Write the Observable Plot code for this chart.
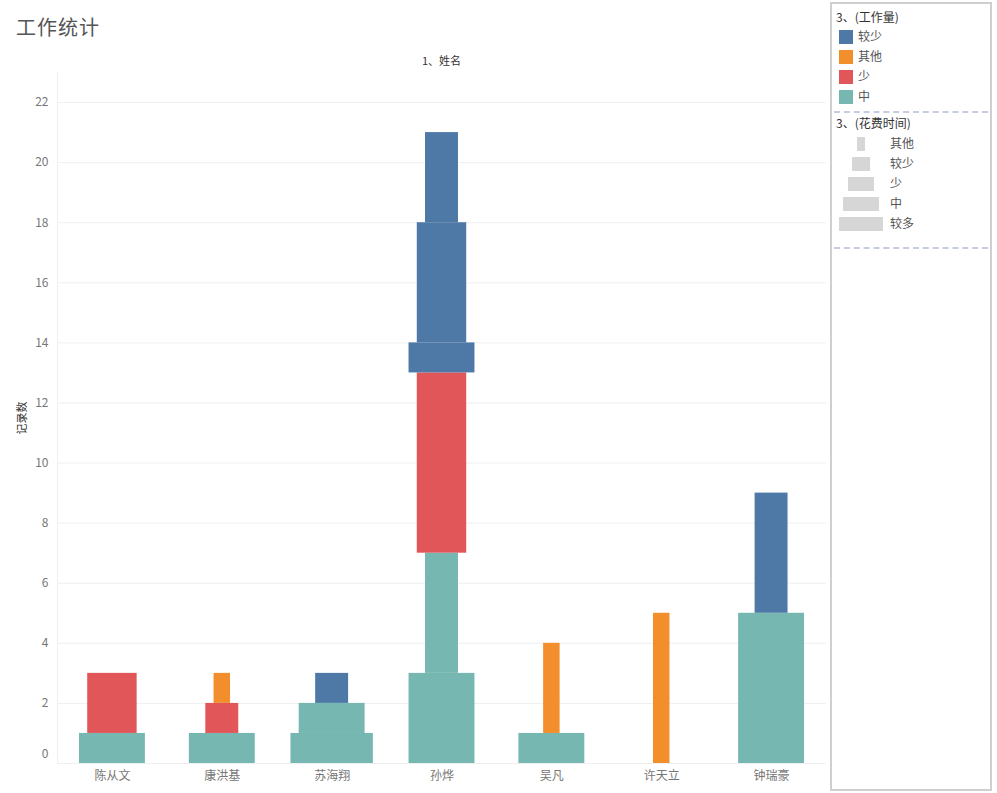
<!DOCTYPE html>
<html><head><meta charset="utf-8">
<script src="https://cdn.jsdelivr.net/npm/d3@7"></script>
<script src="https://cdn.jsdelivr.net/npm/@observablehq/plot@0.6"></script>
<style>
html,body{margin:0;padding:0;background:#fff;font-family:"Noto Sans CJK SC","Noto Sans",sans-serif;}
#wrap{position:relative;width:997px;height:793px;overflow:hidden;}
#title{position:absolute;left:16px;top:12px;font-size:20px;color:#555;letter-spacing:1px;}
#hdr{position:absolute;left:0;width:883px;top:52px;text-align:center;font-size:11px;color:#333;}
#chart{position:absolute;left:0;top:0;}
#legend{position:absolute;left:830px;top:2px;width:158px;height:785px;border:2px solid #cfcfcf;box-sizing:content-box;}
.lt{position:absolute;left:4px;font-size:12px;color:#333;}
.sw{position:absolute;left:7px;width:14px;height:14px;}
.st{position:absolute;left:26px;font-size:12px;color:#555;}
.dash{position:absolute;left:2px;width:154px;border-top:2px dashed #c5cbe0;}
.sz{position:absolute;height:14px;background:#d6d6d6;}
.szt{position:absolute;left:58px;font-size:12px;color:#555;}
</style></head>
<body><div id="wrap"><div id="chart"></div><div id="title">工作统计</div><div id="hdr">1、姓名</div><div id="legend"></div></div>
<script>
// ---- data ----
const names = ["陈从文","康洪基","苏海翔","孙烨","吴凡","许天立","钟瑞豪"];
// segments in stacking order (bottom to top)
const segName     = ["陈从文","陈从文","康洪基","康洪基","康洪基","苏海翔","苏海翔","苏海翔","孙烨","孙烨","孙烨","孙烨","孙烨","孙烨","吴凡","吴凡","许天立","钟瑞豪","钟瑞豪"];
const segWorkload = ["中","少","中","少","其他","中","中","较少","中","中","少","较少","较少","较少","中","其他","其他","中","较少"];
const segTime     = ["中","少","中","较少","其他","较多","中","较少","中","较少","少","中","少","较少","中","其他","其他","中","较少"];
const segCount    = [1,2,1,1,1,1,1,1,3,4,6,1,4,3,1,3,5,5,4];
const workloadLevels = ["较少","其他","少","中"];
const timeLevels = ["其他","较少","少","中","较多"];
const yTicks = [0,2,4,6,8,10,12,14,16,18,20,22];

// ---- styles ----
const workloadColors = ["#4e79a7","#f28e2b","#e15759","#76b7b2"];
const widthFrac = d3.scaleOrdinal(timeLevels, [0.15,0.3,0.45,0.6,0.75]);

// build table with cumulative stacking
const cum = {};
const rows = segName.map((n,i)=>{
  const base = cum[n] || 0;
  cum[n] = base + segCount[i];
  const c = names.indexOf(n) + 0.5;
  const w = widthFrac(segTime[i]);
  return {name:n, workload:segWorkload[i], time:segTime[i], y1:base, y2:base+segCount[i], x1:c-w/2, x2:c+w/2};
});

const W = 828, H = 793;
const plot = Plot.plot({
  width: W, height: H,
  marginLeft: 57, marginRight: 2, marginTop: 72, marginBottom: 30,
  style: {fontFamily: '"Noto Sans CJK SC","Noto Sans",sans-serif', fontSize: "12px", color: "#777", background: "transparent"},
  x: {domain: [0, names.length], axis: null},
  y: {domain: [0, 23], label: null},
  color: {domain: workloadLevels, range: workloadColors},
  marks: [
    Plot.ruleY(yTicks, {stroke: "#efefef", strokeWidth: 1}),
    Plot.ruleX([0], {stroke: "#f0f0f0"}),
    Plot.rect(rows, {x1: "x1", x2: "x2", y1: "y1", y2: "y2", fill: "workload"}),
    Plot.axisY(yTicks.filter(d => d > 0), {tickSize: 0, tickPadding: 9, fill: "#777", fontSize: 12, label: "记录数", labelAnchor: "center", labelArrow: "none", labelOffset: 39}),
    Plot.axisY([0], {tickSize: 0, tickPadding: 9, fill: "#777", fontSize: 12, dy: -9, label: null}),
    Plot.axisX(names.map((d,i)=>i+0.5), {tickSize: 0, tickPadding: 8, tickFormat: d => names[Math.round(d-0.5)], fill: "#777", fontSize: 12, label: null})
  ]
});
document.getElementById("chart").appendChild(plot);
plot.querySelectorAll("text").forEach(t=>{ if(t.textContent==="记录数"){ t.setAttribute("font-size","11"); t.setAttribute("fill","#333"); }});

// ---- legend ----
const lg = document.getElementById("legend");
let html = `<div class="lt" style="top:4px">3、(工作量)</div>`;
workloadLevels.forEach((k,i)=>{
  const top = 26 + i*20;
  html += `<div class="sw" style="top:${top}px;background:${workloadColors[i]}"></div><div class="st" style="top:${top-3}px">${k}</div>`;
});
html += `<div class="dash" style="top:107px"></div>`;
html += `<div class="lt" style="top:110px">3、(花费时间)</div>`;
timeLevels.forEach((k,i)=>{
  const top = 133 + i*20;
  const w = widthFrac(k) * 59;
  html += `<div class="sz" style="top:${top}px;left:${29 - w/2}px;width:${w}px"></div><div class="szt" style="top:${top-3}px">${k}</div>`;
});
html += `<div class="dash" style="top:243px"></div>`;
lg.innerHTML = html;
</script></body></html>
